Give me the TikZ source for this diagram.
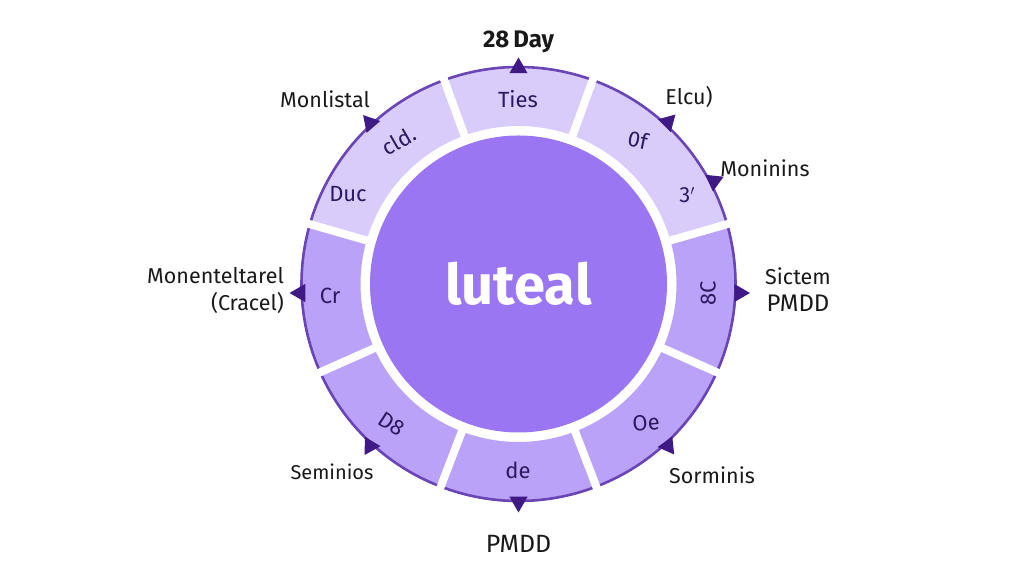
\documentclass[tikz,border=0pt]{standalone}
\usepackage{fontspec}
\setmainfont{Fira Sans}
\usetikzlibrary{positioning, shapes.geometric}
\definecolor{lightseg}{HTML}{D9CCFB}
\definecolor{midseg}{HTML}{BAA2F8}
\definecolor{core}{HTML}{9B76F2}
\definecolor{rim}{HTML}{6A45B6}
\definecolor{marker}{HTML}{3F1A85}
\definecolor{seginkc}{HTML}{2B1A60}
\newcommand{\ringpart}[3]{\fill[#3] (#1:158) -- (#1:218) arc (#1:#2:218) -- (#2:158) arc (#2:#1:158) -- cycle;
  \draw[rim, line width=2.6pt] (#1:217) arc (#1:#2:217);}
\newcommand{\ringgap}[1]{\draw[white, line width=8pt] (#1:150) -- (#1:226);}
\begin{document}
\begin{tikzpicture}[
     x=1pt, y=1pt,
     tick/.style = {regular polygon, regular polygon sides=3, fill=marker, inner sep=0pt, minimum size=21pt},
     outer/.style = {text=black!90, font=\fontsize{21.5}{27}\selectfont, inner sep=0pt, align=center},
     seglabel/.style = {text=seginkc, font=\fontsize{22}{26}\selectfont, inner sep=0pt}
                        ]
\useasboundingbox (0,0) rectangle (1024,585);
% ring
\begin{scope}[shift={(518.5,301)}]
\ringpart{70}{110}{lightseg}
\ringpart{16}{70}{lightseg}
\ringpart{-24}{16}{midseg}
\ringpart{-69}{-24}{midseg}
\ringpart{-111}{-69}{midseg}
\ringpart{-156}{-111}{midseg}
\ringpart{164}{204}{midseg}
\ringpart{110}{164}{lightseg}
\ringgap{70}
\ringgap{110}
\ringgap{16}
\ringgap{-24}
\ringgap{-69}
\ringgap{-111}
\ringgap{-156}
\ringgap{164}
\node (core)[circle, fill=core, minimum size=297pt, inner sep=0pt, text=white, font=\fontsize{56}{60}\selectfont\bfseries] at (0,0) {luteal};
\end{scope}
% markers
\node (tTop)[tick] at (518.5,517) {};
\node (tLeftUp)[tick, rotate=41] at (370,462) {};
\node (tElcu)[tick, rotate=-45] at (668,463) {};
\node (tMon)[tick, rotate=-66] at (714,404) {};
\node (tRight)[tick, rotate=-90] at (739.5,292) {};
\node (tLeft)[tick, rotate=90] at (300,292) {};
\node (tBotLeft)[tick, rotate=29] at (370,139) {};
\node (tBotRight)[tick, rotate=-24] at (668,139) {};
\node (tBottom)[tick, rotate=180] at (518.5,83) {};
% segment labels
\node (ties)[seglabel] at (518,486) {Ties};
\node (cld)[seglabel, rotate=30] at (399,444) {cld.};
\node (duc)[seglabel] at (348,391) {Duc};
\node (cr)[seglabel] at (330,289) {Cr};
\node (dEight)[seglabel, rotate=-33] at (392,161) {D8};
\node (de)[seglabel] at (518,115) {de};
\node (oe)[seglabel, rotate=5] at (646,162) {Oe};
\node (eightC)[seglabel, rotate=90] at (708,292) {8C};
\node (of)[seglabel, rotate=-12] at (638,445) {0f};
\node (three)[seglabel] at (687,390) {3$'$};
% outer labels
\node (day)[outer, font=\fontsize{24}{28}\selectfont\bfseries] [above=4pt of tTop] {28\,Day};
\node (monlistal)[outer] at (325,486) {Monlistal};
\node (elcu)[outer] at (689,488) {Elcu)};
\node (moninins)[outer] at (765,417) {Moninins};
\node (sictem)[outer] at (798,295) {Sictem\\{\fontsize{24}{27}\selectfont PMDD}};
\node (monent)[outer, align=right, anchor=east] at (284,294) {Monenteltarel\\(Cracel)};
\node (seminios)[outer, font=\fontsize{20}{25}\selectfont] at (332,113) {Seminios};
\node (sorminis)[outer] at (712,110) {Sorminis};
\node (pmdd)[outer, font=\fontsize{25}{28}\selectfont] at (518.5,41) {PMDD};
\end{tikzpicture}
\end{document}
